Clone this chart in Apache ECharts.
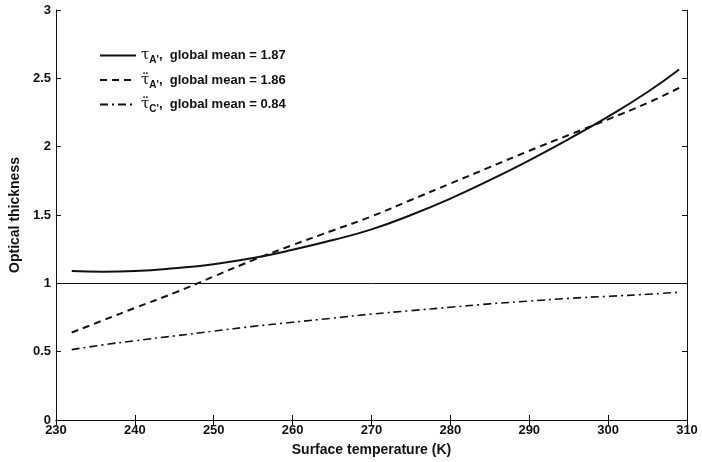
<!DOCTYPE html>
<html>
<head>
<meta charset="utf-8">
<script src="https://cdn.jsdelivr.net/npm/echarts@6/dist/echarts.min.js"></script>
<style>
  html, body { margin: 0; padding: 0; background: #fff; }
  #chart { width: 702px; height: 462px; }
</style>
</head>
<body>
<div id="chart"></div>
<script>
// surface temperatures (K)
var temps = [232, 236, 240, 245, 250, 255, 260, 265, 270, 275, 280, 285, 290, 295, 300, 305, 309];
// tau_A'
var tauA = [1.09, 1.085, 1.09, 1.11, 1.14, 1.185, 1.245, 1.315, 1.395, 1.50, 1.62, 1.755, 1.90, 2.055, 2.22, 2.40, 2.565];
// tau''_A'
var tauA2 = [0.64, 0.73, 0.82, 0.93, 1.05, 1.17, 1.28, 1.385, 1.49, 1.61, 1.73, 1.85, 1.97, 2.085, 2.20, 2.32, 2.43];
// tau''_C'
var tauC2 = [0.515, 0.55, 0.58, 0.615, 0.65, 0.685, 0.715, 0.745, 0.775, 0.80, 0.825, 0.85, 0.87, 0.89, 0.905, 0.92, 0.935];
var means = ['1.87', '1.86', '0.84'];

function pairs(ys) {
  return temps.map(function (t, i) { return [t, ys[i]]; });
}

var font = 'Liberation Sans, Arial, sans-serif';
var chart = echarts.init(document.getElementById('chart'));

var option = {
  animation: false,
  backgroundColor: '#fff',
  grid: { left: 50, right: 15, top: 10, bottom: 38 },
  legend: {
    orient: 'vertical',
    left: 94,
    top: 43,
    itemWidth: 36,
    itemHeight: 12,
    itemGap: 7,
    data: ['a', 'b', 'c'],
    itemStyle: { opacity: 0 },
    formatter: function (name) {
      if (name === 'a') return '{tau|τ}{sub|A\'}{txt|,  global mean = ' + means[0] + '}';
      if (name === 'b') return '{tau|τ\u0308}{sub|A\'}{txt|,  global mean = ' + means[1] + '}';
      return '{tau|τ\u0308}{sub|C\'}{txt|,  global mean = ' + means[2] + '}';
    },
    textStyle: {
      color: '#111',
      fontFamily: font,
      rich: {
        tau: { fontSize: 15, fontFamily: 'DejaVu Serif, serif', color: '#111' },
        sub: { fontSize: 10, fontWeight: 'bold', color: '#111', padding: [10, 0, 0, 0] },
        txt: { fontSize: 13, fontWeight: 'bold', color: '#111' }
      }
    }
  },
  xAxis: [{
    type: 'value',
    min: 230, max: 310, interval: 10,
    name: 'Surface temperature (K)',
    nameLocation: 'middle',
    nameGap: 23,
    nameTextStyle: { fontFamily: font, fontSize: 14, fontWeight: 'bold', color: '#111' },
    axisLine: { lineStyle: { color: '#111', width: 1 } },
    axisTick: { inside: true, length: 5, lineStyle: { color: '#111' } },
    axisLabel: { fontFamily: font, fontSize: 13, fontWeight: 'bold', color: '#111', margin: 4 },
    splitLine: { show: false }
  }, {
    type: 'value', position: 'top',
    min: 230, max: 310, interval: 10,
    axisLine: { lineStyle: { color: '#111', width: 1 } },
    axisTick: { inside: true, length: 5, lineStyle: { color: '#111' } },
    axisLabel: { show: false },
    splitLine: { show: false }
  }],
  yAxis: [{
    type: 'value',
    min: 0, max: 3, interval: 0.5,
    name: 'Optical thickness',
    nameLocation: 'middle',
    nameGap: 25,
    nameTextStyle: { fontFamily: font, fontSize: 14, fontWeight: 'bold', color: '#111' },
    axisLine: { show: true, lineStyle: { color: '#111', width: 1 } },
    axisTick: { show: true, inside: true, length: 5, lineStyle: { color: '#111' } },
    axisLabel: { fontFamily: font, fontSize: 13, fontWeight: 'bold', color: '#111', margin: 5 },
    splitLine: { show: false }
  }, {
    type: 'value', position: 'right',
    min: 0, max: 3, interval: 0.5,
    axisLine: { show: true, lineStyle: { color: '#111', width: 1 } },
    axisTick: { show: true, inside: true, length: 5, lineStyle: { color: '#111' } },
    axisLabel: { show: false },
    splitLine: { show: false }
  }],
  series: [{
    name: 'a',
    type: 'line',
    smooth: true,
    symbol: 'none',
    data: pairs(tauA),
    lineStyle: { color: '#111', width: 2, type: 'solid' },
    itemStyle: { color: '#111' },
    markLine: {
      silent: true,
      symbol: 'none',
      label: { show: false },
      lineStyle: { color: '#111', width: 1, type: 'solid' },
      data: [{ yAxis: 1 }]
    }
  }, {
    name: 'b',
    type: 'line',
    smooth: true,
    symbol: 'none',
    data: pairs(tauA2),
    lineStyle: { color: '#111', width: 2, type: [7, 5] },
    itemStyle: { color: '#111' }
  }, {
    name: 'c',
    type: 'line',
    smooth: true,
    symbol: 'none',
    data: pairs(tauC2),
    lineStyle: { color: '#111', width: 1.6, type: [8, 4, 2, 4] },
    itemStyle: { color: '#111' }
  }]
};

chart.setOption(option);
</script>
</body>
</html>
